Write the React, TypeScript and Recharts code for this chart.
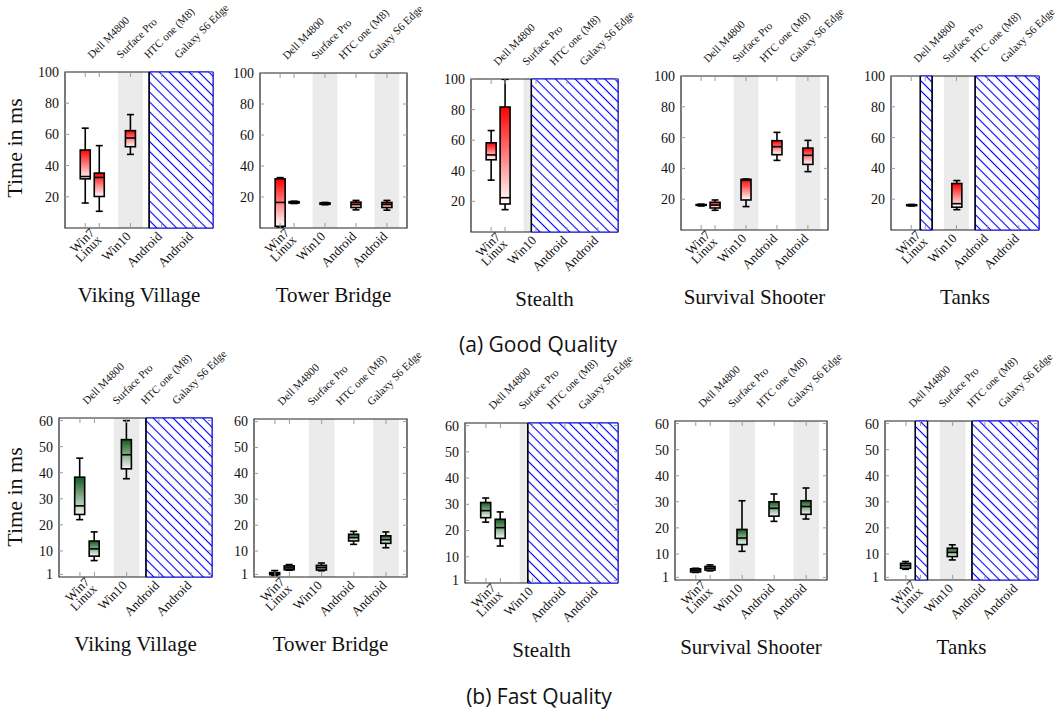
import { ComposedChart, Bar, XAxis, YAxis, ReferenceArea, ReferenceLine } from 'recharts'

const SERIF = "'Liberation Serif', 'DejaVu Serif', serif"
const SANS = "'Open Sans', Lato, sans-serif"

type BoxStat = { x: number; min: number; q1: number; med: number; q3: number; max: number }

// slot positions on the x axis: Win7, Linux (Dell), Win10 (Surface), Android (HTC), Android (Galaxy)
const SLOT_X = [0.65, 1.1, 2.1, 3.1, 4.1]
const OS_LABELS = [['Win7', 'Linux'], ['Win10'], ['Android'], ['Android']]
const OS_LABEL_X = [1.05, 2.1, 3.1, 4.1]
const DEVICES = ['Dell M4800', 'Surface Pro', 'HTC one (M8)', 'Galaxy S6 Edge']
const DEVICE_X = [0.87, 1.8, 2.68, 3.65]
const BANDS = [[1.7, 2.5], [3.7, 4.5]]
const X_DOMAIN = [0, 4.75]

const GOOD_DOMAIN = [0, 100]
const GOOD_TICKS = [20, 40, 60, 80, 100]
const FAST_DOMAIN = [0, 61]
const FAST_TICKS = [1, 10, 20, 30, 40, 50, 60]

const box = (slot: number, min: number, q1: number, med: number, q3: number, max: number): BoxStat =>
  ({ x: SLOT_X[slot], min, q1, med, q3, max })

// (a) Good Quality
const vikingGood = [box(0, 16, 31.5, 33, 50, 64), box(1, 10.7, 20.2, 32.4, 35.2, 52.8), box(2, 47.2, 52.1, 57.7, 62.4, 72.7)]
const towerGood = [
  box(0, 0.6, 1.1, 16.5, 31.7, 32.5), box(1, 15.8, 16.1, 16.5, 17, 17.3), box(2, 15, 15.3, 15.7, 16.2, 16.5),
  box(3, 11.7, 13.2, 15.2, 16.7, 17.8), box(4, 11.5, 13.2, 15.2, 16.5, 17.8),
]
const stealthGood = [box(0, 33.9, 47.2, 50.4, 58.3, 66.3), box(1, 14.6, 18.3, 22.4, 81.7, 99.8)]
const survivalGood = [
  box(0, 15.6, 16, 16.2, 16.5, 16.8), box(1, 12.8, 14.3, 16.2, 18, 19.5), box(2, 15.2, 19.5, 32.3, 32.9, 33.1),
  box(3, 45.2, 48.9, 54.1, 58, 63.4), box(4, 37.9, 42.6, 48.5, 53.2, 58.2),
]
const tanksGood = [box(0, 15.6, 15.8, 16.1, 16.4, 16.6), box(2, 13.2, 14.8, 17.1, 30.2, 32.1)]

// (b) Fast Quality
const vikingFast = [box(0, 22, 24, 27.3, 38.3, 45.6), box(1, 6.3, 8, 10.8, 13.8, 17.3), box(2, 37.7, 41.5, 46.9, 52.7, 60)]
const towerFast = [
  box(0, 0.6, 0.9, 1.3, 1.7, 2.5), box(1, 2.6, 2.8, 3.5, 4.3, 4.8), box(2, 2.4, 2.7, 3.6, 4.5, 5.4),
  box(3, 12.6, 13.9, 15.2, 16.5, 17.6), box(4, 11.3, 13, 14.4, 15.9, 17.4),
]
const stealthFast = [box(0, 23.2, 24.9, 27.6, 30.7, 32.4), box(1, 14.1, 17, 21.1, 24.3, 27.1)]
const survivalFast = [
  box(0, 2.9, 3.1, 3.8, 4.3, 4.5), box(1, 3.5, 3.8, 4.5, 5.2, 5.8), box(2, 11, 13.6, 16.1, 19.4, 30.4),
  box(3, 22.5, 24.5, 27.5, 30, 33), box(4, 23.4, 25.2, 28.2, 30.4, 35.3),
]
const tanksFast = [box(0, 4.1, 4.5, 5.5, 6.4, 7.1), box(2, 7.7, 9, 10.6, 12.2, 13.5)]

// unavailable platform ranges (hatched)
const HATCH_VIKING = [[2.7, 4.75]]
const HATCH_STEALTH = [[1.95, 4.75]]
const HATCH_TANKS = [[0.94, 1.32], [2.7, 4.75]]

const TITLES = ['Viking Village', 'Tower Bridge', 'Stealth', 'Survival Shooter', 'Tanks']

const GOOD_DATA = [vikingGood, towerGood, stealthGood, survivalGood, tanksGood]
const FAST_DATA = [vikingFast, towerFast, stealthFast, survivalFast, tanksFast]
const HATCHES = [HATCH_VIKING, [], HATCH_STEALTH, [], HATCH_TANKS]

// plot area layout
const GOOD_LAYOUT = [
  { left: 65, top: 72, w: 148, h: 156 },
  { left: 260, top: 73, w: 147, h: 155 },
  { left: 471, top: 79, w: 147, h: 153 },
  { left: 681, top: 76, w: 147, h: 154 },
  { left: 891, top: 76, w: 148, h: 154 },
]
const FAST_LAYOUT = [
  { left: 59, top: 418, w: 153, h: 159 },
  { left: 254, top: 419, w: 153, h: 158 },
  { left: 465, top: 423, w: 153, h: 160 },
  { left: 675, top: 421, w: 152, h: 159 },
  { left: 885, top: 421, w: 153, h: 159 },
]

const Y_AXIS_W = 40
const TOP_H = 60
const BOTTOM_H = 36
const RIGHT_PAD = 4

function YTick(props: any) {
  const { x, y, payload, plotW } = props
  return (
    <g>
      <line x1={x} x2={x + 4} y1={y} y2={y} stroke="#9a9a9a" />
      <line x1={x + plotW - 4} x2={x + plotW} y1={y} y2={y} stroke="#9a9a9a" />
      <text x={x - 6} y={y} dy="0.35em" textAnchor="end" fontSize={14} fontFamily={SERIF} fill="#111">
        {payload.value}
      </text>
    </g>
  )
}

function MarkTick(props: any) {
  const { x, y, plotH } = props
  return (
    <g>
      <line x1={x} x2={x} y1={y} y2={y - 5} stroke="#9a9a9a" />
      <line x1={x} x2={x} y1={y - plotH} y2={y - plotH + 5} stroke="#9a9a9a" />
    </g>
  )
}

function OsTick(props: any) {
  const { x, y, index } = props
  const lines = OS_LABELS[index] ?? []
  const lh = 10
  return (
    <text transform={`translate(${x - 2},${y + 5}) rotate(-45)`} textAnchor="end" fontSize={13} fontFamily={SERIF} fill="#111">
      {lines.map((l, i) => (
        <tspan key={i} x={0} dy={i === 0 ? 4.5 - ((lines.length - 1) * lh) / 2 : lh}>{l}</tspan>
      ))}
    </text>
  )
}

function DeviceTick(props: any) {
  const { x, y, index } = props
  return (
    <text transform={`translate(${x},${y - 13}) rotate(-45)`} textAnchor="start" fontSize={11} fontFamily={SERIF} fill="#111">
      {DEVICES[index]}
    </text>
  )
}

function BoxShape(props: any) {
  const { x, y, width, height, payload, gradId } = props
  const { min, q1, med, q3, max } = payload as BoxStat
  const py = (v: number) => y + ((max - v) / (max - min)) * height
  const cx = x + width / 2
  const cap = 3.5
  const sw = 1.6
  return (
    <g>
      <line x1={cx} x2={cx} y1={py(max)} y2={py(q3)} stroke="#000" strokeWidth={sw} />
      <line x1={cx} x2={cx} y1={py(q1)} y2={py(min)} stroke="#000" strokeWidth={sw} />
      <line x1={cx - cap} x2={cx + cap} y1={py(max)} y2={py(max)} stroke="#000" strokeWidth={sw} />
      <line x1={cx - cap} x2={cx + cap} y1={py(min)} y2={py(min)} stroke="#000" strokeWidth={sw} />
      <rect x={x} y={py(q3)} width={width} height={Math.max(py(q1) - py(q3), 0.5)} fill={`url(#${gradId})`} stroke="#000" strokeWidth={sw} />
      <line x1={x} x2={x + width} y1={py(med)} y2={py(med)} stroke="#000" strokeWidth={sw} />
    </g>
  )
}

interface PanelProps {
  id: string
  data: BoxStat[]
  hatch: number[][]
  yDomain: number[]
  yTicks: number[]
  topColor: string
  bottomColor: string
  left: number
  top: number
  w: number
  h: number
}

function Panel({ id, data, hatch, yDomain, yTicks, topColor, bottomColor, left, top, w, h }: PanelProps) {
  const [y0, y1] = yDomain
  return (
    <div style={{ position: 'absolute', left: left - Y_AXIS_W, top: top - TOP_H }}>
      <ComposedChart
        width={Y_AXIS_W + w + RIGHT_PAD}
        height={TOP_H + h + 1 + BOTTOM_H}
        data={data}
        margin={{ top: 0, right: RIGHT_PAD, bottom: 0, left: 0 }}
      >
        <defs>
          <linearGradient id={`${id}-grad`} x1="0" y1="0" x2="0" y2="1">
            <stop offset="0%" stopColor={topColor} />
            <stop offset="100%" stopColor={bottomColor} />
          </linearGradient>
          <pattern id={`${id}-hatch`} patternUnits="userSpaceOnUse" width={7} height={7} patternTransform="rotate(-45)">
            <rect width={7} height={7} fill="#fff" />
            <line x1={3.5} y1={0} x2={3.5} y2={7} stroke="#0000ff" strokeWidth={1.1} />
          </pattern>
        </defs>

        {BANDS.map(([a, b], i) => (
          <ReferenceArea key={`band-${i}`} x1={a} x2={b} y1={y0} y2={y1} fill="#ebebeb" fillOpacity={1} stroke="none" />
        ))}

        <Bar
          dataKey={(d: BoxStat) => [d.min, d.max]}
          barSize={10}
          isAnimationActive={false}
          shape={(p: any) => <BoxShape {...p} gradId={`${id}-grad`} />}
        />

        <ReferenceArea x1={X_DOMAIN[0]} x2={X_DOMAIN[1]} y1={y0} y2={y1} fill="none" stroke="#222" strokeWidth={1.2} />

        {hatch.map(([a, b], i) => (
          <ReferenceArea key={`hatch-${i}`} x1={a} x2={b} y1={y0} y2={y1} fill={`url(#${id}-hatch)`} fillOpacity={1} stroke="#0000ff" strokeWidth={1} />
        ))}
        {hatch.flat().filter(v => v > X_DOMAIN[0] && v < X_DOMAIN[1]).map((v, i) => (
          <ReferenceLine key={`edge-${i}`} x={v} stroke="#000" strokeWidth={1.5} />
        ))}

        <XAxis
          dataKey="x"
          type="number"
          domain={X_DOMAIN}
          ticks={SLOT_X}
          interval={0}
          height={1}
          tickSize={0}
          tickMargin={0}
          axisLine={false}
          tickLine={false}
          allowDataOverflow
          tick={<MarkTick plotH={h} />}
        />
        <XAxis
          xAxisId="lab"
          dataKey="x"
          type="number"
          domain={X_DOMAIN}
          ticks={OS_LABEL_X}
          interval={0}
          height={BOTTOM_H}
          tickSize={0}
          tickMargin={0}
          axisLine={false}
          tickLine={false}
          allowDataOverflow
          tick={<OsTick />}
        />
        <XAxis
          xAxisId="top"
          dataKey="x"
          orientation="top"
          type="number"
          domain={X_DOMAIN}
          ticks={DEVICE_X}
          interval={0}
          height={TOP_H}
          tickSize={0}
          tickMargin={0}
          axisLine={false}
          tickLine={false}
          allowDataOverflow
          tick={<DeviceTick />}
        />
        <YAxis
          type="number"
          domain={yDomain}
          ticks={yTicks}
          interval={0}
          width={Y_AXIS_W}
          tickSize={0}
          tickMargin={0}
          axisLine={false}
          tickLine={false}
          allowDataOverflow
          tick={<YTick plotW={w} />}
        />
      </ComposedChart>
    </div>
  )
}

function CenterText({ x, y, w, size, font, children }: { x: number; y: number; w: number; size: number; font: string; children: string }) {
  return (
    <div style={{
      position: 'absolute', left: x - w / 2, top: y - size * 0.7, width: w, height: size * 1.4,
      lineHeight: `${size * 1.4}px`, textAlign: 'center', fontSize: size, fontFamily: font, color: '#111', whiteSpace: 'nowrap',
    }}>
      {children}
    </div>
  )
}

export default function App() {
  return (
    <div style={{ position: 'absolute', left: 0, top: 0, width: 1063, height: 714, background: '#fff', overflow: 'hidden' }}>
      <style>{'.recharts-surface { overflow: visible; }'}</style>
      {GOOD_LAYOUT.map((l, i) => (
        <Panel key={`g${i}`} id={`g${i}`} data={GOOD_DATA[i]} hatch={HATCHES[i]} yDomain={GOOD_DOMAIN} yTicks={GOOD_TICKS}
          topColor="#ff0000" bottomColor="#ffffff" {...l} />
      ))}
      {FAST_LAYOUT.map((l, i) => (
        <Panel key={`f${i}`} id={`f${i}`} data={FAST_DATA[i]} hatch={HATCHES[i]} yDomain={FAST_DOMAIN} yTicks={FAST_TICKS}
          topColor="#125c1c" bottomColor="#f4f8f4" {...l} />
      ))}

      {GOOD_LAYOUT.map((l, i) => (
        <CenterText key={`gt${i}`} x={l.left + l.w / 2} y={l.top + l.h + 68} w={220} size={21} font={SERIF}>{TITLES[i]}</CenterText>
      ))}
      {FAST_LAYOUT.map((l, i) => (
        <CenterText key={`ft${i}`} x={l.left + l.w / 2} y={l.top + l.h + 68} w={220} size={21} font={SERIF}>{TITLES[i]}</CenterText>
      ))}

      <div style={{ position: 'absolute', left: 15 - 70, top: 148 - 13, width: 140, height: 26, lineHeight: '26px', textAlign: 'center',
        fontSize: 22, fontFamily: SERIF, color: '#111', transform: 'rotate(-90deg)' }}>Time in ms</div>
      <div style={{ position: 'absolute', left: 15 - 70, top: 497 - 13, width: 140, height: 26, lineHeight: '26px', textAlign: 'center',
        fontSize: 22, fontFamily: SERIF, color: '#111', transform: 'rotate(-90deg)' }}>Time in ms</div>

      <CenterText x={538} y={345} w={320} size={21} font={SANS}>(a) Good Quality</CenterText>
      <CenterText x={539} y={697} w={320} size={21} font={SANS}>(b) Fast Quality</CenterText>
    </div>
  )
}
